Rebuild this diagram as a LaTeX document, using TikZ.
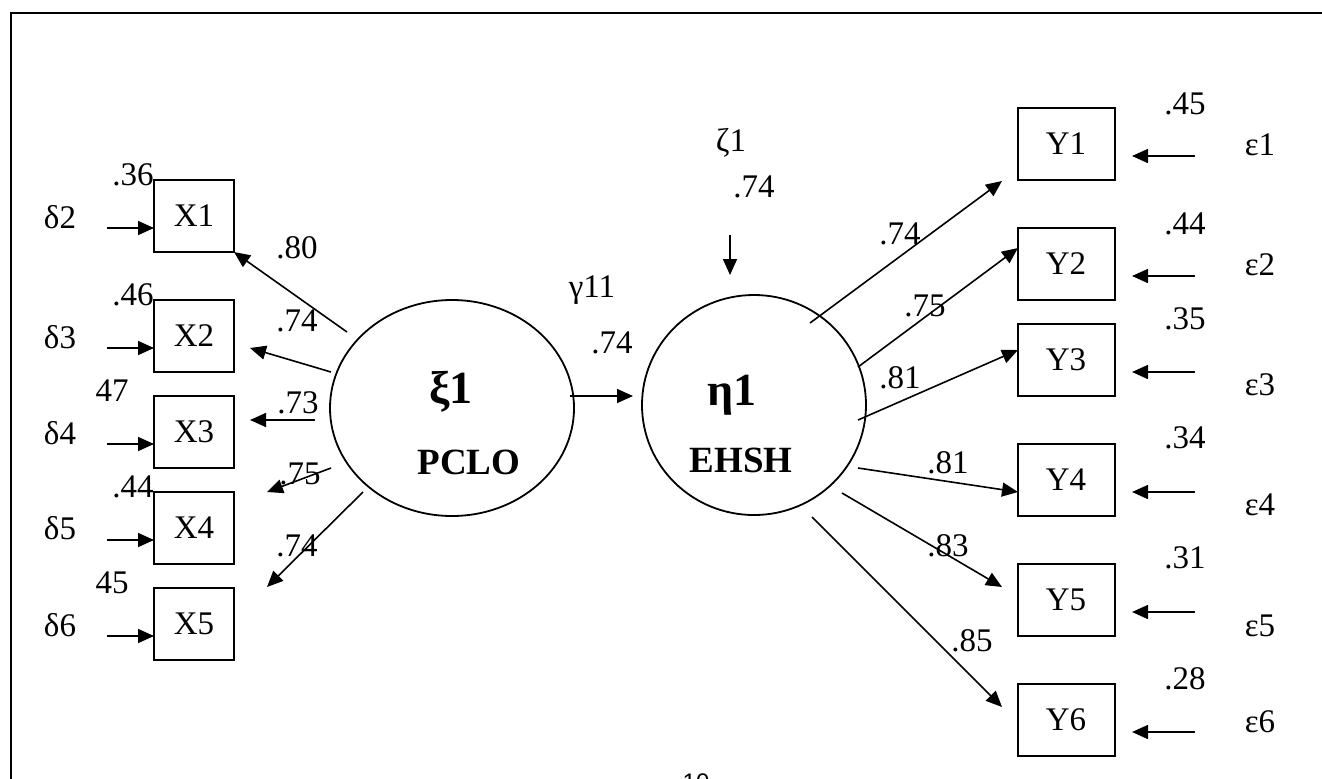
\documentclass[tikz,border=0pt]{standalone}
\usepackage{fontspec}
\setmainfont{Liberation Serif}
\setsansfont{Liberation Sans}
\usetikzlibrary{arrows.meta,shapes.geometric}
\begin{document}
\begin{tikzpicture}[x=0.5pt,y=-0.5pt,
  txt/.style={inner sep=0pt,font=\fontsize{16.5}{19}\selectfont},
  xbox/.style={draw,line width=1pt,minimum width=40pt,minimum height=36pt,inner sep=0pt,font=\fontsize{16.5}{19}\selectfont},
  ybox/.style={draw,line width=1pt,minimum width=48.5pt,minimum height=36pt,inner sep=0pt,font=\fontsize{16.5}{19}\selectfont},
  lat/.style={draw,ellipse,line width=0.9pt,inner sep=0pt},
  conn/.style={line width=0.8pt,-{Triangle[length=8pt,width=7pt]}},
  big/.style={inner sep=0pt,font=\fontsize{23}{26}\selectfont\bfseries},
  abbr/.style={inner sep=0pt,font=\fontsize{18.5}{21}\selectfont\bfseries}
]
\useasboundingbox (0,0) rectangle (1322,778);
\clip (0,0) rectangle (1322,778);
\draw[line width=1.1pt] (11,820) -- (11,13) -- (1340,13);

% latent variables
\node[lat,minimum width=122pt,minimum height=108pt] (pclo) at (452,408) {};
\node[lat,minimum width=112pt,minimum height=110pt] (ehsh) at (754,405) {};
\node[big] (xi) at (451,392) {ξ1};
\node[abbr] (pcloT) at (469,462) {PCLO};
\node[big] (eta) at (732,395) {η1};
\node[abbr] (ehshT) at (741,460) {EHSH};

% X boxes
\node[xbox] (x1) at (194,216) {X1};
\node[xbox] (x2) at (194,336) {X2};
\node[xbox] (x3) at (194,432) {X3};
\node[xbox] (x4) at (194,528) {X4};
\node[xbox] (x5) at (194,624) {X5};

% Y boxes
\node[ybox] (y1) at (1066,144) {Y1};
\node[ybox] (y2) at (1066,264) {Y2};
\node[ybox] (y3) at (1066,360) {Y3};
\node[ybox] (y4) at (1066,480) {Y4};
\node[ybox] (y5) at (1066,600) {Y5};
\node[ybox] (y6) at (1066,720) {Y6};

% delta labels and arrows
\node[txt] (d2) at (60,217) {δ2};
\node[txt] (d3) at (60,337) {δ3};
\node[txt] (d4) at (60,433) {δ4};
\node[txt] (d5) at (60,528) {δ5};
\node[txt] (d6) at (60,625) {δ6};
\coordinate (d2s) at (107,228); \coordinate (d2e) at (154,228);
\coordinate (d3s) at (107,348); \coordinate (d3e) at (154,348);
\coordinate (d4s) at (107,444); \coordinate (d4e) at (154,444);
\coordinate (d5s) at (107,540); \coordinate (d5e) at (154,540);
\coordinate (d6s) at (107,636); \coordinate (d6e) at (154,636);
\foreach \i in {2,...,6} \draw[conn] (d\i s) -- (d\i e);

% X error variances
\node[txt] (vx1) at (133,175) {.36};
\node[txt] (vx2) at (133,295) {.46};
\node[txt] (vx3) at (112,391) {47};
\node[txt] (vx4) at (133,487) {.44};
\node[txt] (vx5) at (112,583) {45};

% X loadings
\coordinate (lx1s) at (347,332); \coordinate (lx1e) at (234,252);
\coordinate (lx2s) at (331,372); \coordinate (lx2e) at (250,348);
\coordinate (lx3s) at (315,420); \coordinate (lx3e) at (250,420);
\coordinate (lx4s) at (331,468); \coordinate (lx4e) at (267,492);
\coordinate (lx5s) at (363,492); \coordinate (lx5e) at (267,587);
\foreach \i in {1,...,5} \draw[conn] (lx\i s) -- (lx\i e);
\node[txt] (lx1) at (297,248) {.80};
\node[txt] (lx2) at (297,321) {.74};
\node[txt] (lx3) at (298,403) {.73};
\node[txt] (lx4) at (300,474) {.75};
\node[txt] (lx5) at (297,546) {.74};

% structural path
\coordinate (gs) at (570,396); \coordinate (ge) at (633,396);
\draw[conn] (gs) -- (ge);
\node[txt] (gam) at (592,290) {γ11};
\node[txt] (gval) at (612,343) {.74};

% disturbance
\node[txt] (zeta) at (731,143) {ζ1};
\node[txt] (zval) at (754,187) {.74};
\coordinate (zs) at (730,235); \coordinate (ze) at (730,275);
\draw[conn] (zs) -- (ze);

% Y loadings
\coordinate (ly1s) at (810,323); \coordinate (ly1e) at (1002,181);
\coordinate (ly2s) at (858,367); \coordinate (ly2e) at (1018,248);
\coordinate (ly3s) at (858,420); \coordinate (ly3e) at (1018,350);
\coordinate (ly4s) at (858,468); \coordinate (ly4e) at (1018,492);
\coordinate (ly5s) at (842,493); \coordinate (ly5e) at (1002,587);
\coordinate (ly6s) at (812,517); \coordinate (ly6e) at (1002,707);
\foreach \i in {1,...,6} \draw[conn] (ly\i s) -- (ly\i e);
\node[txt] (ly1) at (900,234) {.74};
\node[txt] (ly2) at (925,306) {.75};
\node[txt] (ly3) at (900,378) {.81};
\node[txt] (ly4) at (948,463) {.81};
\node[txt] (ly5) at (948,546) {.83};
\node[txt] (ly6) at (972,641) {.85};

% epsilon
\node[txt] (e1) at (1260,145) {ε1};
\node[txt] (e2) at (1260,265) {ε2};
\node[txt] (e3) at (1260,385) {ε3};
\node[txt] (e4) at (1260,505) {ε4};
\node[txt] (e5) at (1260,626) {ε5};
\node[txt] (e6) at (1260,722) {ε6};
\coordinate (e1s) at (1195,156); \coordinate (e1e) at (1132,156);
\coordinate (e2s) at (1195,276); \coordinate (e2e) at (1132,276);
\coordinate (e3s) at (1195,372); \coordinate (e3e) at (1132,372);
\coordinate (e4s) at (1195,492); \coordinate (e4e) at (1132,492);
\coordinate (e5s) at (1195,612); \coordinate (e5e) at (1132,612);
\coordinate (e6s) at (1195,732); \coordinate (e6e) at (1132,732);
\foreach \i in {1,...,6} \draw[conn] (e\i s) -- (e\i e);

% Y error variances
\node[txt] (vy1) at (1185,104) {.45};
\node[txt] (vy2) at (1185,224) {.44};
\node[txt] (vy3) at (1185,319) {.35};
\node[txt] (vy4) at (1185,438) {.34};
\node[txt] (vy5) at (1185,558) {.31};
\node[txt] (vy6) at (1185,679) {.28};

% page number
\node[inner sep=0pt,anchor=north,font=\sffamily\fontsize{12}{14}\selectfont] (pg) at (696,773) {10};
\end{tikzpicture}
\end{document}
